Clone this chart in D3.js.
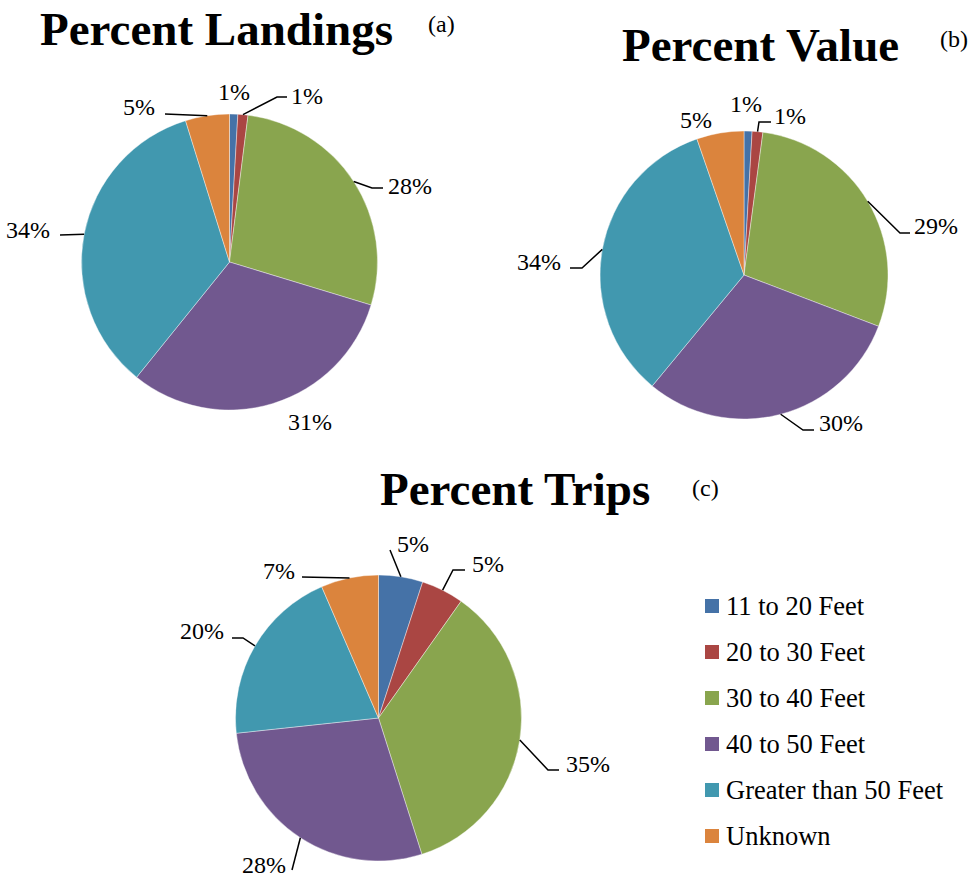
<!DOCTYPE html>
<html><head><meta charset="utf-8">
<script src="https://cdn.jsdelivr.net/npm/d3@7"></script>
<style>body{margin:0;background:#fff}svg{display:block}</style>
</head><body>
<svg id="c" width="971" height="878"></svg>
<script>
// ---- data ----
const categories = ["11 to 20 Feet","20 to 30 Feet","30 to 40 Feet","40 to 50 Feet","Greater than 50 Feet","Unknown"];
const colors = ["#4572A7","#AA4643","#89A54E","#71588F","#4198AF","#DB843D"];
const landingsValues = [0.9, 1.1, 27.7, 31.1, 34.4, 4.8];
const valueValues    = [0.9, 1.2, 28.7, 30.2, 33.7, 5.3];
const tripsValues    = [5.0, 4.8, 35.3, 28.2, 20.2, 6.5];
const titles = ["Percent Landings","Percent Value","Percent Trips"];
const tags = ["(a)","(b)","(c)"];

const FONT = "'Liberation Serif', 'Times New Roman', Times, serif";

// ---- layout ----
const pies = [
  {values: landingsValues, cx: 229.5, cy: 262, r: 148,
   title: {x: 40, y: 45}, tag: {x: 428, y: 32},
   labels: [
     {x: 218, y: 100, a: "start"},
     {x: 291, y: 104, a: "start", pts: [[277,97],[287,97]]},
     {x: 388, y: 194, a: "start", pts: [[372,188],[383,188]]},
     {x: 288, y: 430, a: "start"},
     {x: 50, y: 238, a: "end", pts: [[60,235]]},
     {x: 155, y: 115, a: "end", pts: [[165,114]]}
   ]},
  {values: valueValues, cx: 744, cy: 275, r: 144,
   title: {x: 622, y: 61}, tag: {x: 940, y: 47},
   labels: [
     {x: 730, y: 112, a: "start"},
     {x: 774, y: 124, a: "start", pts: [[759,122],[771,122]]},
     {x: 914, y: 234, a: "start", pts: [[900,233],[910,233]]},
     {x: 819, y: 431, a: "start", pts: [[803,430],[814,430]]},
     {x: 561, y: 270, a: "end", pts: [[582,268],[570,268]]},
     {x: 712, y: 128, a: "end"}
   ]},
  {values: tripsValues, cx: 378.5, cy: 718, r: 143,
   title: {x: 380, y: 505}, tag: {x: 692, y: 496},
   labels: [
     {x: 397, y: 552, a: "start", pts: [[390,550]]},
     {x: 472, y: 572, a: "start", pts: [[453,570],[465,570]]},
     {x: 566, y: 772, a: "start", pts: [[548,770],[559,770]]},
     {x: 286, y: 873, a: "end", pts: [[292,870]]},
     {x: 224, y: 639, a: "end", pts: [[243,638],[232,638]]},
     {x: 295, y: 579, a: "end", pts: [[302,577]]}
   ]}
];

const svg = d3.select("#c");
const pieGen = d3.pie().sort(null).value(d => d);
const color = d3.scaleOrdinal().domain(categories).range(colors);

function txt(x, y, size, s, anchor, bold) {
  return svg.append("text").attr("x", x).attr("y", y)
    .attr("font-family", FONT).attr("font-size", size)
    .attr("font-weight", bold ? "bold" : "normal")
    .attr("text-anchor", anchor || "start").attr("fill", "#000").text(s);
}

pies.forEach((p, pi) => {
  const arc = d3.arc().innerRadius(0).outerRadius(p.r);
  const g = svg.append("g").attr("transform", `translate(${p.cx},${p.cy})`);
  const arcs = pieGen(p.values);
  g.selectAll("path").data(arcs).join("path")
    .attr("d", arc)
    .attr("fill", (d, i) => color(categories[i]))
    .attr("stroke", "#fff").attr("stroke-width", 0.4);

  arcs.forEach((d, i) => {
    const L = p.labels[i];
    const mid = (d.startAngle + d.endAngle) / 2;
    const sx = p.cx + p.r * Math.sin(mid), sy = p.cy - p.r * Math.cos(mid);
    if (L.pts) {
      const pts = [[sx, sy]].concat(L.pts);
      svg.append("path")
        .attr("d", d3.line()(pts))
        .attr("fill", "none").attr("stroke", "#000").attr("stroke-width", 1.5);
    }
    txt(L.x, L.y, 24, Math.round(d.data) + "%", L.a);
  });

  txt(p.title.x, p.title.y, 47, titles[pi], "start", true);
  txt(p.tag.x, p.tag.y, 24, tags[pi]);
});

// legend
categories.forEach((c, i) => {
  const y = 606 + i * 46;
  svg.append("rect").attr("x", 705).attr("y", y - 7).attr("width", 14).attr("height", 14).attr("fill", color(c));
  txt(726, y + 9, 26.5, c);
});
</script>
</body></html>
